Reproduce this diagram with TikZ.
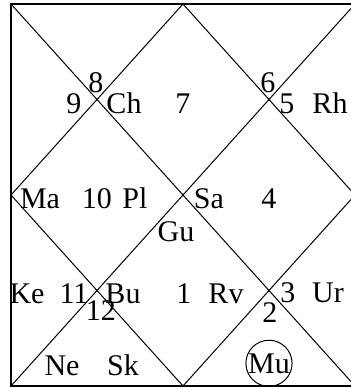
\documentclass[tikz,border=0pt]{standalone}
\usepackage{fontspec}
\setmainfont{Liberation Serif}
\begin{document}
\begin{tikzpicture}[x=0.5pt, y=-0.5pt,
    frame/.style={line width=1pt},
    diag/.style={line width=0.5pt},
    lbl/.style={font=\fontsize{15}{18}\selectfont, inner sep=0pt, anchor=base},
    ring/.style={lbl, circle, draw, line width=0.5pt}
]
\useasboundingbox (0,0) rectangle (351,388);
\clip (0,0) rectangle (351,388);

% chart lines
\draw[frame] (11,4) rectangle (355,386);
\draw[diag] (11,4) -- (355,386);
\draw[diag] (355,4) -- (11,386);
\draw[diag] (183,4) -- (355,195) -- (183,386) -- (11,195) -- cycle;

% house numbers
\node[lbl] (h1) at (184,303) {1};
\node[lbl] (h2) at (270,322) {2};
\node[lbl] (h3) at (288,302) {3};
\node[lbl] (h4) at (269,208) {4};
\node[lbl] (h5) at (287,113) {5};
\node[lbl] (h6) at (268,92) {6};
\node[lbl] (h7) at (183,113) {7};
\node[lbl] (h8) at (96,92) {8};
\node[lbl] (h9) at (74,113) {9};
\node[lbl] (h10) at (97,208) {10};
\node[lbl] (h11) at (74,303) {11};
\node[lbl] (h12) at (101,320) {12};

% planets
\node[lbl] (ch) at (124,113) {Ch};
\node[lbl] (rh) at (330,113) {Rh};
\node[lbl] (ma) at (40,208) {Ma};
\node[lbl] (pl) at (135,208) {Pl};
\node[lbl] (sa) at (209,208) {Sa};
\node[lbl] (gu) at (176,241) {Gu};
\node[lbl] (ke) at (27,303) {Ke};
\node[lbl] (bu) at (123,303) {Bu};
\node[lbl] (rv) at (226,303) {Rv};
\node[lbl] (ur) at (328,302) {Ur};
\node[lbl] (ne) at (62,375) {Ne};
\node[lbl] (sk) at (123,375) {Sk};
\node[ring] (mu) at (269,373) {Mu};
\end{tikzpicture}
\end{document}
